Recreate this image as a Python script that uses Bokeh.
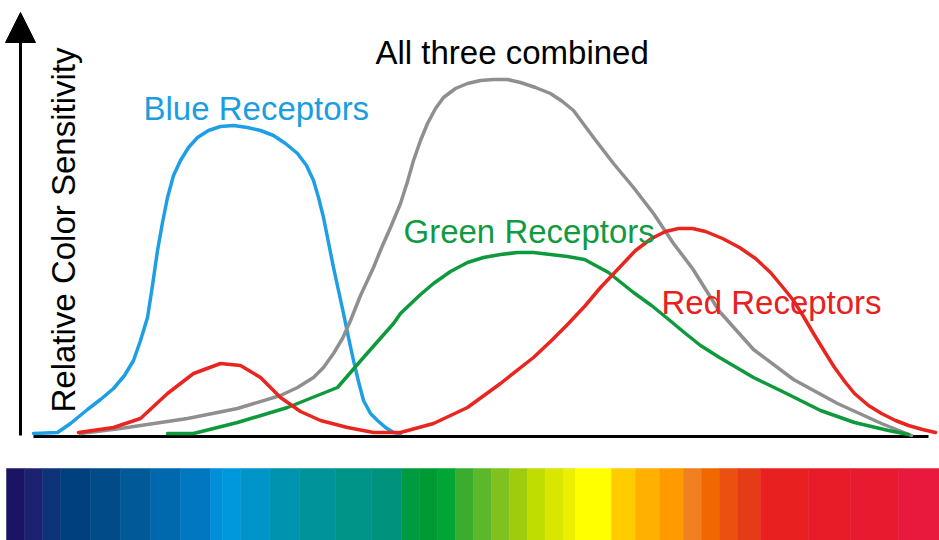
from bokeh.plotting import figure
from bokeh.models import Range1d, ColumnDataSource, Arrow, NormalHead
from bokeh.core.properties import value
from bokeh.embed import file_html
from bokeh.resources import INLINE

# ---- data (position along spectrum, relative sensitivity in arbitrary units) ----
blue_x = [33, 57, 70, 87, 100, 113, 124, 133, 140, 147, 152, 157, 162, 167, 173, 180, 188, 197, 208, 220,
          233, 247, 260, 273, 285, 297, 306, 313, 318, 323, 328, 333, 338, 343, 348, 353, 358, 363, 370,
          377, 385, 393, 400]
blue_y = [2, 3, 12, 26, 36, 47, 60, 75, 95, 118, 150, 185, 213, 238, 260, 275, 288, 298, 305, 309,
          310, 308, 305, 300, 292, 282, 270, 255, 238, 218, 193, 168, 145, 122, 98, 75, 54, 35, 22,
          15, 8, 3, 2]

red_x = [78, 113, 140, 167, 193, 220, 240, 260, 280, 300, 320, 347, 373, 400, 433, 467, 500, 533, 550,
         567, 584, 600, 618, 635, 651, 665, 678, 692, 705, 722, 739, 755, 770, 785, 793, 803, 813, 824,
         834, 845, 854, 868, 881, 895, 908, 922, 935]
red_y = [3, 8, 17, 42, 62, 72, 70, 58, 38, 24, 15, 8, 3, 3, 12, 28, 52, 78, 94,
         111, 129, 148, 167, 185, 197, 204, 207, 207, 204, 197, 188, 177, 163, 145, 135, 119, 102, 84,
         68, 53, 42, 30, 22, 15, 10, 6, 3]

green_x = [167, 193, 237, 287, 337, 363, 393, 400, 420, 433, 450, 467, 483, 500, 517, 533, 550, 567, 584,
           608, 633, 651, 667, 685, 700, 719, 753, 786, 820, 854, 888, 908]
green_y = [2, 2, 13, 28, 48, 78, 112, 122, 141, 152, 164, 173, 178, 181, 183, 183, 181, 179, 176,
           163, 143, 130, 117, 102, 90, 78, 58, 42, 25, 13, 5, 1]

gray_x = [80, 120, 187, 237, 280, 297, 313, 323, 333, 342, 350, 360, 373, 382, 390, 400, 407, 413, 420,
          427, 435, 443, 455, 467, 480, 493, 507, 520, 535, 550, 562, 573, 593, 613, 633, 653, 673, 692,
          719, 753, 793, 837, 881, 911]
gray_y = [2, 7, 17, 27, 40, 48, 58, 68, 82, 97, 115, 140, 168, 190, 208, 232, 254, 275, 295,
          312, 327, 338, 347, 352, 355, 356, 356, 353, 348, 342, 334, 325, 298, 272, 248, 222, 192, 167,
          124, 86, 56, 32, 12, 0]

label_text = ["All three combined", "Blue Receptors", "Green Receptors", "Red Receptors"]
label_x = [375, 143, 403, 661]
label_y = [383, 327, 204, 133]
label_color = ["#000000", "#1b9de2", "#119a3f", "#e8201e"]
axis_title = "Relative Color Sensitivity"

spectrum_edges = [6, 24, 42, 60, 90, 120, 150, 180, 210, 222, 240, 269, 299, 335, 371, 401, 419, 437,
                  455, 473, 491, 509, 527, 545, 563, 575, 611, 635, 659, 683, 701, 719, 737, 760, 808,
                  850, 898, 939]
spectrum_colors = ["#1b1464", "#1d2270", "#0f3378", "#00407f", "#004b88", "#005a98", "#0068ad",
                   "#0077c0", "#0090d8", "#0098dd", "#0094c8", "#0093b0", "#00949a", "#009488",
                   "#00927a", "#009a40", "#009a35", "#00a535", "#3aad30", "#5cb82a", "#7fc220",
                   "#a0cc10", "#c0dc00", "#d8e600", "#ecf000", "#ffff00", "#ffcc00", "#ffb000",
                   "#ff9a00", "#f08020", "#f06800", "#eb5010", "#e43c14", "#e82020", "#e81c28",
                   "#e81a30", "#e8193c"]

p = figure(width=939, height=540, x_range=Range1d(0, 939), y_range=Range1d(-105, 435),
           output_backend="svg", toolbar_location=None, min_border=0,
           x_axis_type=None, y_axis_type=None, outline_line_color=None)
p.background_fill_color = "white"
p.border_fill_color = "white"

# spectrum bar
p.quad(left=spectrum_edges[:-1], right=spectrum_edges[1:], bottom=-105, top=-33,
       fill_color=spectrum_colors, line_color=spectrum_colors, line_width=0.5)

# axes
p.segment(x0=[33], y0=[-1], x1=[928], y1=[-1], line_color="black", line_width=3)
p.add_layout(Arrow(end=NormalHead(size=30, fill_color="black", line_color="black"),
                   x_start=20, y_start=0, x_end=20, y_end=423,
                   line_color="black", line_width=3))

# curves
kw = dict(line_width=3.5, line_join="round", line_cap="round")
p.line(blue_x, blue_y, line_color="#1e9fe5", **kw)
p.line(gray_x, gray_y, line_color="#8f8f8f", **kw)
p.line(green_x, green_y, line_color="#0e9a3c", **kw)
p.line(red_x, red_y, line_color="#e8251f", **kw)

# labels
src = ColumnDataSource(dict(x=label_x, y=label_y, text=label_text, color=label_color))
p.text(x="x", y="y", text="text", text_color="color", source=src,
       text_font=value("Liberation Sans"), text_font_size="33px",
       text_align="left", text_baseline="alphabetic")
p.text(x=[63], y=[23], text=[axis_title], angle=1.5707963,
       text_color="black", text_font=value("Liberation Sans"), text_font_size="33px",
       text_align="left", text_baseline="alphabetic")

open("out.html", "w").write(file_html(p, INLINE))
